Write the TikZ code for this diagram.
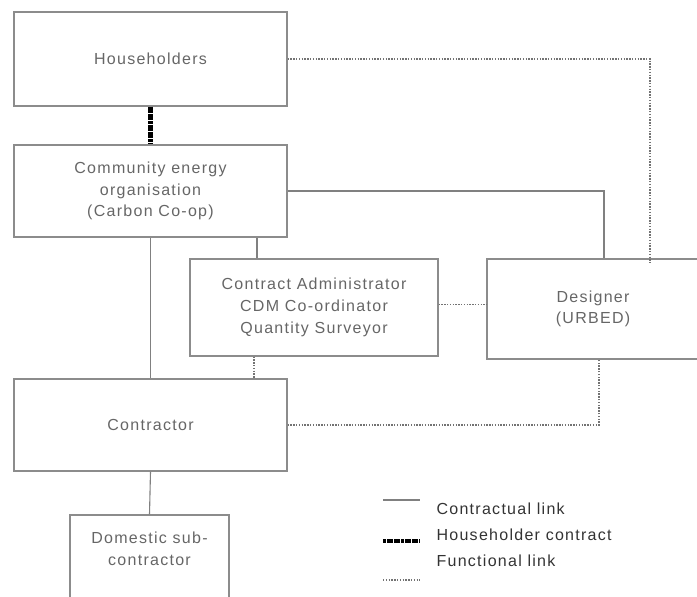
\documentclass[tikz,border=0pt]{standalone}
\usepackage{fontspec}
\setmainfont[LetterSpace=8]{Liberation Sans}
\usetikzlibrary{positioning, calc}

\begin{document}
\begin{tikzpicture}[
    x=1pt, y=-1pt,
    party/.style={rectangle, draw=black!45, line width=1.2pt, align=center, text=black!60, font=\fontsize{16}{21.7}\selectfont, inner sep=2pt},
    contractual/.style={draw=black!50, line width=1.1pt},
    householder/.style={draw=black, line width=4.5pt, dash pattern=on 3pt off 0.6pt},
    functional/.style={draw=black!55, line width=1.1pt, dash pattern=on 1.4pt off 1.4pt},
    legendtext/.style={anchor=west, text=black!80, font=\fontsize{16}{18}\selectfont}
]
    \useasboundingbox (0,0) rectangle (697,597);

    % Parties
    \node[party, minimum width=273pt, minimum height=94pt] (house) at (150.5, 59) {Householders};
    \node[party, minimum width=273pt, minimum height=92pt] (ceo) at (150.5, 191) {Community energy\\organisation\\(Carbon Co-op)};
    \node[party, minimum width=248pt, minimum height=97pt] (admin) at (314, 307.5) {Contract Administrator\\CDM Co-ordinator\\Quantity Surveyor};
    \node[party, minimum width=212pt, minimum height=100pt] (designer) at (593, 309) {Designer\\(URBED)};
    \node[party, minimum width=273pt, minimum height=92pt] (contractor) at (150.5, 425) {Contractor};
    \node[party, minimum width=159pt, minimum height=100pt] (domestic) at (149.5, 565) {};
    \node[text=black!60, align=center, font=\fontsize{16}{21.7}\selectfont] (domesticlabel) at (149.5, 549) {Domestic sub-\\contractor};

    % Helper coordinates for links
    \coordinate (ca) at ([xshift=-57pt]admin.north);
    \coordinate (cb) at ([xshift=-60pt]admin.south);
    \coordinate (da) at ([xshift=11pt]designer.north);
    \coordinate (db) at ([xshift=57pt]designer.north);
    \coordinate (dc) at ([xshift=6pt]designer.south);

    % Householder contract
    \draw[householder] (house.south) -- (ceo.north);

    % Contractual links
    \draw[contractual] (ceo.east) -| (da);
    \draw[contractual] (ca) -- (ca |- ceo.south);
    \draw[contractual] (ceo.south) -- (contractor.north);
    \draw[contractual] (contractor.south) -- (domestic.north);

    % Functional links
    \draw[functional] (house.east) -| ([yshift=-4pt]db);
    \draw[functional] ([yshift=3pt]admin.east) -- ([yshift=3pt]admin.east -| designer.west);
    \draw[functional] (cb) -- (cb |- contractor.north);
    \draw[functional] (contractor.east) -| (dc);

    % Legend
    \coordinate (l1a) at (383, 500);
    \coordinate (l1b) at (420, 500);
    \coordinate (l2a) at (383, 541);
    \coordinate (l2b) at (420, 541);
    \coordinate (l3a) at (383, 580);
    \coordinate (l3b) at (420, 580);
    \draw[contractual] (l1a) -- (l1b);
    \draw[householder] (l2a) -- (l2b);
    \draw[functional] (l3a) -- (l3b);
    \node[legendtext] (t1) at (433, 509) {Contractual link};
    \node[legendtext] (t2) at (433, 535) {Householder contract};
    \node[legendtext] (t3) at (433, 561) {Functional link};
\end{tikzpicture}
\end{document}
